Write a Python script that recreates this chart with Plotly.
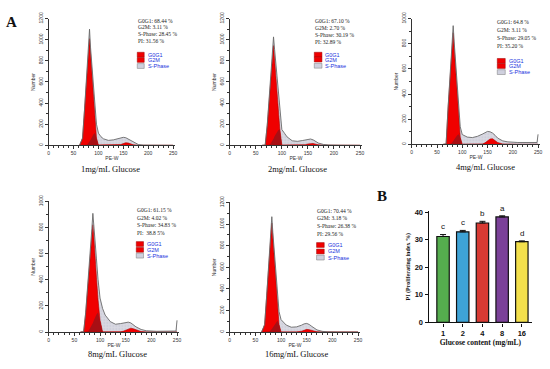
import plotly.graph_objects as go

W, H = 550, 369


def px(x):
    return x / W


def py(y):
    return 1 - y / H


# ---------------- data: flow cytometry histograms (PE-W channel) ----------------
PE_W = [62, 68, 72, 75, 78, 80, 82, 84, 86, 88, 90, 93, 96, 100, 105, 110, 120,
        130, 140, 145, 150, 155, 160, 165, 170, 180, 190, 210, 230, 248, 250]

TOTAL_1 = [0, 70, 340, 545, 760, 900, 1100, 930, 815, 680, 555, 375, 200, 115, 82, 62, 47,
           52, 66, 74, 76, 72, 58, 42, 28, 8, 2, 0, 0, 0, 0]
G0G1_1 = [0, 67, 337, 539, 741, 875, 1010, 875, 741, 590, 450, 250, 70, 0, 0, 0, 0,
          0, 0, 0, 0, 0, 0, 0, 0, 0, 0, 0, 0, 0, 0]
G2M_1 = [0, 0, 0, 0, 0, 0, 0, 0, 0, 0, 0, 0, 0, 0, 0, 0, 0,
         0, 2, 7, 17, 25, 22, 12, 5, 0, 0, 0, 0, 0, 0]
SPH_1 = [0, 0, 0, 2, 10, 20, 35, 50, 70, 90, 105, 118, 125, 110, 80, 60, 45,
         50, 60, 62, 58, 45, 34, 28, 20, 6, 1, 0, 0, 0, 0]

TOTAL_2 = [0, 2, 195, 385, 585, 720, 865, 1027, 910, 805, 700, 500, 320, 150, 115, 80, 43,
           38, 46, 52, 58, 60, 52, 37, 22, 8, 3, 1, 0, 0, 0]
G0G1_2 = [0, 0, 189, 378, 567, 693, 819, 945, 819, 693, 567, 350, 160, 0, 0, 0, 0,
          0, 0, 0, 0, 0, 0, 0, 0, 0, 0, 0, 0, 0, 0]
G2M_2 = [0, 0, 0, 0, 0, 0, 0, 0, 0, 0, 0, 0, 0, 0, 0, 0, 0,
         0, 2, 6, 13, 19, 18, 11, 5, 1, 0, 0, 0, 0, 0]
SPH_2 = [0, 0, 0, 3, 12, 25, 42, 62, 85, 105, 125, 142, 150, 145, 110, 75, 40,
         35, 42, 45, 44, 40, 32, 24, 16, 6, 2, 0, 0, 0, 0]

TOTAL_3 = [0, 5, 300, 478, 662, 790, 944, 815, 705, 590, 480, 305, 140, 78, 65, 58, 54,
           64, 82, 95, 103, 100, 90, 72, 50, 28, 20, 15, 12, 15, 80]
G0G1_3 = [0, 0, 296, 473, 650, 769, 887, 769, 650, 520, 400, 220, 55, 0, 0, 0, 0,
          0, 0, 0, 0, 0, 0, 0, 0, 0, 0, 0, 0, 0, 0]
G2M_3 = [0, 0, 0, 0, 0, 0, 0, 0, 0, 0, 0, 0, 0, 0, 0, 0, 0,
         0, 3, 12, 28, 43, 45, 32, 15, 3, 0, 0, 0, 0, 0]
SPH_3 = [0, 0, 0, 2, 8, 15, 25, 38, 50, 62, 72, 80, 80, 72, 62, 55, 52,
         62, 78, 82, 75, 57, 45, 40, 32, 22, 16, 12, 10, 15, 0]

TOTAL_4 = [0, 2, 150, 295, 450, 560, 675, 790, 909, 820, 745, 560, 405, 260, 180, 130, 80,
           60, 65, 70, 74, 76, 70, 55, 40, 20, 10, 6, 5, 8, 90]
G0G1_4 = [0, 0, 145, 290, 435, 532, 629, 725, 822, 725, 629, 420, 250, 90, 0, 0, 0,
          0, 0, 0, 0, 0, 0, 0, 0, 0, 0, 0, 0, 0, 0]
G2M_4 = [0, 0, 0, 0, 0, 0, 0, 0, 0, 0, 0, 0, 0, 0, 0, 0, 0,
         0, 2, 6, 15, 25, 30, 25, 16, 4, 0, 0, 0, 0, 0]
SPH_4 = [0, 0, 0, 3, 12, 25, 40, 55, 70, 90, 110, 135, 150, 160, 170, 125, 78,
         58, 60, 60, 56, 50, 38, 28, 22, 14, 9, 6, 5, 8, 0]

TOTAL_5 = [0, 70, 340, 542, 750, 892, 1068, 920, 805, 670, 545, 360, 190, 115, 88, 65, 45,
           48, 64, 76, 80, 70, 52, 33, 20, 7, 2, 0, 0, 0, 0]
G0G1_5 = [0, 67, 336, 538, 740, 874, 1009, 874, 740, 590, 450, 250, 70, 0, 0, 0, 0,
          0, 0, 0, 0, 0, 0, 0, 0, 0, 0, 0, 0, 0, 0]
G2M_5 = [0, 0, 0, 0, 0, 0, 0, 0, 0, 0, 0, 0, 0, 0, 0, 0, 0,
         1, 8, 18, 25, 22, 14, 6, 2, 0, 0, 0, 0, 0, 0]
SPH_5 = [0, 0, 0, 2, 8, 16, 28, 42, 58, 75, 90, 105, 112, 110, 85, 62, 42,
         45, 55, 57, 54, 46, 36, 26, 17, 6, 2, 0, 0, 0, 0]

TOTALS = [TOTAL_1, TOTAL_2, TOTAL_3, TOTAL_4, TOTAL_5]
G0G1S = [G0G1_1, G0G1_2, G0G1_3, G0G1_4, G0G1_5]
G2MS = [G2M_1, G2M_2, G2M_3, G2M_4, G2M_5]
SPHS = [SPH_1, SPH_2, SPH_3, SPH_4, SPH_5]
PEAK_MARKS = [[82], [83], [83], [83], [81, 147]]
Y_MAX = [1200, 1200, 1000, 1000, 1200]

PANEL_TITLES = ["1mg/mL Glucose", "2mg/mL Glucose", "4mg/mL Glucose",
                "8mg/mL Glucose", "16mg/mL Glucose"]
STATS = [
    ["G0G1: 68.44 %", "G2M: 3.11 %", "S-Phase: 28.45 %", "PI: 31.56 %"],
    ["G0G1: 67.10 %", "G2M: 2.70 %", "S-Phase: 30.19 %", "PI: 32.89 %"],
    ["G0G1: 64.8 %", "G2M: 3.11 %", "S-Phase: 29.05 %", "PI: 35.20 %"],
    ["G0G1: 61.15 %", "G2M: 4.02 %", "S-Phase: 34.83 %", "PI:  38.8 5%"],
    ["G0G1: 70.44 %", "G2M: 3.18 %", "S-Phase: 26.38 %", "PI: 29.56 %"],
]
LEGEND_NAMES = ["G0G1", "G2M", "S-Phase"]

# ---------------- data: bar chart B ----------------
GLUCOSE = ["1", "2", "4", "8", "16"]
PI_MEAN = [31.2, 32.9, 36.1, 38.3, 29.3]
PI_ERR = [0.7, 0.5, 0.6, 0.4, 0.3]
SIG_LETTERS = ["c", "c", "b", "a", "d"]
BAR_COLORS = ["#55ad4e", "#3ea3d6", "#d83a33", "#7b4199", "#f3e04c"]

# ---------------- layout geometry (pixels) ----------------
# (x_left, x_at_250, y_top, y_bottom)
BOXES = [(48, 173, 12, 143), (230, 361, 12, 143), (413, 540, 12, 142),
         (48, 177, 201, 336), (230, 359, 202, 336)]
STAT_POS = [(137, 14, 7), (315, 14.7, 7.1), (498, 16, 8), (136, 210, 7.8), (317, 210.7, 7.9)]
LEG_POS = [(137, 144, [49.3, 54.7, 61]), (315, 322.7, [49.3, 54.3, 60.7]),
           (499, 507, [55.7, 61, 67.3]), (136, 143.3, [245, 251, 257]),
           (317.3, 325, [246, 252.7, 259])]
TITLE_POS = [(110, 167), (298, 167), (487, 165), (117, 359), (297, 359)]

RED = "#f00000"
DARK_RED = "#a80f14"
GRAY_FILL = "#d9d9e2"
SERIF = "Liberation Serif"
SANS = "Liberation Sans"

fig = go.Figure()
annotations = []
shapes = []
layout_axes = {}

for i in range(5):
    n = i + 1
    xa = "x" if n == 1 else f"x{n}"
    ya = "y" if n == 1 else f"y{n}"
    total, g1, g2, sph = TOTALS[i], G0G1S[i], G2MS[i], SPHS[i]
    overlap = [min(a, b) for a, b in zip(sph, g1)]

    fig.add_trace(go.Scatter(x=PE_W, y=total, mode="lines", fill="tozeroy",
                             fillcolor=GRAY_FILL, line=dict(width=0),
                             fillpattern=dict(shape=".", fgcolor="#b4b4c4", bgcolor=GRAY_FILL,
                                              size=3, solidity=0.25),
                             xaxis=xa, yaxis=ya, showlegend=False, hoverinfo="skip"))
    fig.add_trace(go.Scatter(x=PE_W, y=g1, mode="lines", fill="tozeroy",
                             fillcolor=RED, line=dict(width=0.6, color="#b00000"),
                             xaxis=xa, yaxis=ya, showlegend=False))
    fig.add_trace(go.Scatter(x=PE_W, y=overlap, mode="lines", fill="tozeroy",
                             fillcolor=DARK_RED, line=dict(width=0),
                             xaxis=xa, yaxis=ya, showlegend=False, hoverinfo="skip"))
    fig.add_trace(go.Scatter(x=PE_W, y=g2, mode="lines", fill="tozeroy",
                             fillcolor=RED, line=dict(width=0.6, color="#b00000"),
                             xaxis=xa, yaxis=ya, showlegend=False))
    fig.add_trace(go.Scatter(x=PE_W, y=total, mode="lines",
                             line=dict(width=0.9, color="#6a6a6a"),
                             xaxis=xa, yaxis=ya, showlegend=False))
    fig.add_trace(go.Scatter(x=PEAK_MARKS[i], y=[-Y_MAX[i] * 0.018] * len(PEAK_MARKS[i]),
                             mode="markers", cliponaxis=False,
                             marker=dict(symbol="triangle-up", size=5, color="black"),
                             xaxis=xa, yaxis=ya, showlegend=False))

    x0, x250, yt, yb = BOXES[i]
    xend = x0 + (x250 - x0) * 254 / 250
    layout_axes["xaxis" if n == 1 else f"xaxis{n}"] = dict(
        domain=[px(x0), px(xend)], anchor=ya, range=[0, 254],
        tickvals=[0, 50, 100, 150, 200, 250], showline=True, linecolor="#333",
        linewidth=0.8, ticks="outside", ticklen=3, tickwidth=0.7, tickcolor="#333",
        minor=dict(dtick=10, ticks="outside", ticklen=2, tickcolor="#333", tickwidth=0.6),
        tickfont=dict(size=5, family=SANS, color="#333"), showgrid=False, zeroline=False,
        title=dict(text="PE-W", font=dict(size=5, family=SANS, color="#333"), standoff=1))
    layout_axes["yaxis" if n == 1 else f"yaxis{n}"] = dict(
        domain=[py(yb), py(yt)], anchor=xa, range=[0, Y_MAX[i]],
        tickvals=list(range(0, Y_MAX[i] + 1, 200)), showline=True, linecolor="#333",
        linewidth=0.8, ticks="outside", ticklen=3, tickwidth=0.7, tickcolor="#333",
        minor=dict(dtick=100, ticks="outside", ticklen=2, tickcolor="#333", tickwidth=0.6),
        tickangle=-90, tickfont=dict(size=5, family=SANS, color="#333"),
        showgrid=False, zeroline=False,
        title=dict(text="Number", font=dict(size=5, family=SANS, color="#333"), standoff=2))

    # stats text
    sx, sy, sd = STAT_POS[i]
    for k, line in enumerate(STATS[i]):
        annotations.append(dict(x=px(sx), y=py(sy + k * sd), xref="paper", yref="paper",
                                text=line, showarrow=False, xanchor="left", yanchor="middle",
                                borderpad=0,
                                font=dict(size=5.5, family=SERIF, color="#222")))
    # legend (drawn)
    lx0, lx1, rows = LEG_POS[i]
    for k, name in enumerate(LEGEND_NAMES):
        yc = rows[k]
        if k < 2:
            shapes.append(dict(type="rect", xref="paper", yref="paper",
                               x0=px(lx0), x1=px(lx1), y0=py(yc + 2.5), y1=py(yc - 2.5),
                               fillcolor=RED, line=dict(width=0.5, color="#900")))
        else:
            shapes.append(dict(type="rect", xref="paper", yref="paper",
                               x0=px(lx0), x1=px(lx1), y0=py(yc + 2.5), y1=py(yc - 2.5),
                               fillcolor="#cfd0de", line=dict(width=0.5, color="#777")))
        annotations.append(dict(x=px(lx1 + 2.5), y=py(yc), xref="paper", yref="paper",
                                text=name, showarrow=False, xanchor="left", yanchor="middle",
                                borderpad=0,
                                font=dict(size=5.5, family=SANS, color="#2233dd")))
    # panel title
    tx, ty = TITLE_POS[i]
    annotations.append(dict(x=px(tx), y=py(ty), xref="paper", yref="paper",
                            text=PANEL_TITLES[i], showarrow=False, xanchor="center",
                            yanchor="middle", font=dict(size=8.5, family=SERIF, color="#111")))

# ---------------- bar chart B ----------------
BAR_POS = list(range(len(GLUCOSE)))
fig.add_trace(go.Bar(x=BAR_POS, y=PI_MEAN, width=0.63,
                     marker=dict(color=BAR_COLORS, line=dict(color="#111", width=1.2)),
                     error_y=dict(type="data", array=PI_ERR, arrayminus=[0] * 5,
                                  color="#111", thickness=1, width=3),
                     xaxis="x6", yaxis="y6", showlegend=False))
layout_axes["xaxis6"] = dict(
    domain=[px(430), px(534)], anchor="y6", range=[-0.73, 4.52],
    tickvals=BAR_POS, ticktext=[f"<b>{g}</b>" for g in GLUCOSE],
    showline=True, linecolor="#111", linewidth=1.3, ticks="outside", ticklen=3,
    tickwidth=1, tickcolor="#111", tickfont=dict(size=7.5, family=SANS, color="#111"),
    showgrid=False, zeroline=False,
    title=dict(text="<b>Glucose content (mg/mL)</b>",
               font=dict(size=7.5, family=SERIF, color="#111"), standoff=3))
layout_axes["yaxis6"] = dict(
    domain=[py(326), py(211)], anchor="x6", range=[0, 40.4],
    tickvals=[0, 10, 20, 30, 40], ticktext=["<b>0</b>", "<b>10</b>", "<b>20</b>",
                                           "<b>30</b>", "<b>40</b>"],
    showline=True, linecolor="#111", linewidth=1.3, ticks="outside", ticklen=3,
    tickwidth=1, tickcolor="#111", tickfont=dict(size=7.5, family=SANS, color="#111"),
    showgrid=False, zeroline=False,
    title=dict(text="<b>PI (Proliferating index %)</b>",
               font=dict(size=6, family=SERIF, color="#111"), standoff=3))
for i, letter in enumerate(SIG_LETTERS):
    annotations.append(dict(x=BAR_POS[i], y=PI_MEAN[i] + PI_ERR[i] + 0.4, xref="x6", yref="y6",
                            text=letter, showarrow=False, xanchor="center", yanchor="bottom",
                            font=dict(size=8, family=SANS, color="#111")))

# panel letters
annotations.append(dict(x=px(10.5), y=py(15), xref="paper", yref="paper", text="<b>A</b>",
                        showarrow=False, xanchor="center", yanchor="middle",
                        font=dict(size=15, family=SERIF, color="#111")))
annotations.append(dict(x=px(383), y=py(195), xref="paper", yref="paper", text="<b>B</b>",
                        showarrow=False, xanchor="center", yanchor="middle",
                        font=dict(size=15, family=SERIF, color="#111")))

fig.update_layout(width=W, height=H, margin=dict(l=0, r=0, t=0, b=0),
                  paper_bgcolor="white", plot_bgcolor="white",
                  annotations=annotations, shapes=shapes, showlegend=False,
                  **layout_axes)

fig.write_html("out.html", config={"displayModeBar": False},
               post_script="document.body.style.margin='0';document.body.style.padding='0';")
